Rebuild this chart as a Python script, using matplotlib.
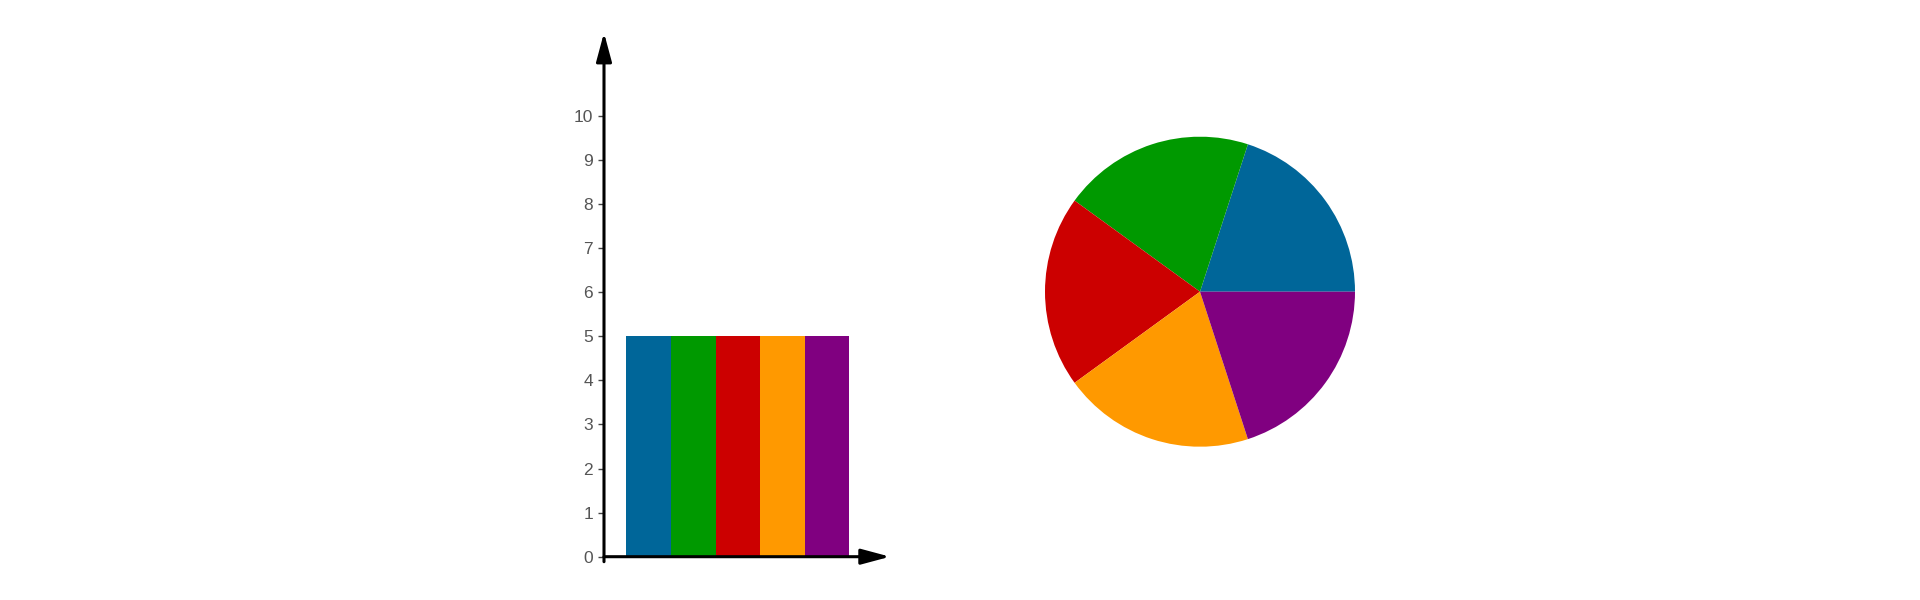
import matplotlib
matplotlib.use("Agg")
import matplotlib.pyplot as plt

plt.rcParams['font.family'] = ['Liberation Sans', 'DejaVu Sans']

categories = ["A", "B", "C", "D", "E"]
values = [5, 5, 5, 5, 5]
colors = ["#006699", "#009900", "#cc0000", "#ff9900", "#800080"]
yticks = list(range(0, 11))

W, H = 1920, 600
fig = plt.figure(figsize=(W / 100, H / 100), dpi=100)

# Bar chart axes (pixel geometry)
x0, y0 = 604, 556.7
ytop = 32.7
xright = 890
unit_y = 44.07
unit_x = 44.6
ax = fig.add_axes([x0 / W, (H - y0) / H, (xright - x0) / W, (y0 - ytop) / H])
ax.set_xlim(0, (xright - x0) / unit_x)
ax.set_ylim(0, (y0 - ytop) / unit_y)
xs = [i + 1 for i in range(len(categories))]
ax.bar(xs, values, width=1.0, color=colors, edgecolor='none')
for s in ax.spines.values():
    s.set_visible(False)
ax.set_xticks([])
ax.set_yticks(yticks)
ax.set_yticklabels([str(t) for t in yticks])
ax.tick_params(axis='y', length=4, width=1, color='#444444', labelcolor='#555555',
               labelsize=12.5, pad=4)

arrow_kw = dict(arrowstyle='-|>,head_length=1.75,head_width=0.47', color='black',
                lw=2.2, shrinkA=0, shrinkB=0, mutation_scale=10)
ax.annotate('', xy=(0, 1), xycoords='axes fraction', xytext=(0, -5 / (y0 - ytop)),
            textcoords='axes fraction', arrowprops=arrow_kw, annotation_clip=False)
ax.annotate('', xy=(1, 0), xycoords='axes fraction', xytext=(0, 0),
            textcoords='axes fraction', arrowprops=arrow_kw, annotation_clip=False)

# Pie chart axes
cx, cy, r = 1200, 291.7, 155
pax = fig.add_axes([(cx - r) / W, (H - cy - r) / H, 2 * r / W, 2 * r / H])
pax.pie(values, colors=colors, startangle=0, counterclock=True, radius=1,
        wedgeprops=dict(linewidth=0))
pax.set_xlim(-1, 1)
pax.set_ylim(-1, 1)
pax.axis('off')

fig.savefig("out.png", dpi=100, facecolor='white')
